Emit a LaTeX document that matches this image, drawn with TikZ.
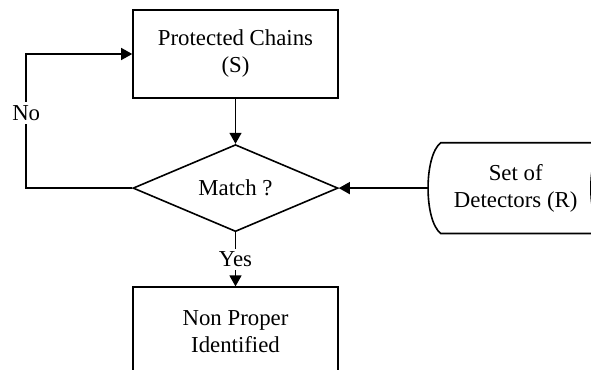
\documentclass[tikz,border=0pt]{standalone}
\usepackage{fontspec}
\setmainfont{Liberation Serif}
\usetikzlibrary{positioning, arrows.meta, shapes.geometric}
\tikzset{
	>={Triangle[length=5.5pt,width=6pt]},
	node distance=22.5pt,
	align=center,
	font=\fontsize{11.4pt}{13.5pt}\selectfont,
	every edge/.style={draw, ->, line width=0.7pt},
	block/.style={draw, line width=0.8pt, minimum width=102.5pt, minimum height=44pt, inner sep=0pt},
	decision/.style={diamond, aspect=2.4, draw, line width=0.8pt, minimum width=102.5pt, minimum height=43.5pt, inner sep=0pt},
	storage/.style={minimum width=87.5pt, minimum height=45pt, inner sep=0pt},
	answer/.style={fill=white, inner sep=1.5pt}
}

\begin{document}
\begin{tikzpicture}[x=0.5pt, y=-0.5pt]
	\useasboundingbox (0,0) rectangle (591,370);
	\node[block] (prot) at (235.5,54) {Protected Chains\\(S)};
	\node[decision, below=of prot] (match) {Match ?};
	\node[block, below=27pt of match] (out) {Non Proper\\Identified};
	\node[storage, right=44.5pt of match] (det) {Set of\\Detectors (R)};
	\coordinate[left=53pt of match.west] (noturn);
	% outline of the detector store
	\draw[line width=0.8pt] ([xshift=6.5pt]det.south west)
		.. controls +(-17,-13) and +(-17,13) .. ([xshift=6.5pt]det.north west)
		-- (det.north east)
		.. controls +(-17,13) and +(-17,-13) .. (det.south east) -- cycle;
	\draw
	(prot) edge (match)
	(det) edge (match)
	(match) edge node[answer]{Yes} (out)
	;
	\draw[->, line width=0.7pt] (match.west) -- (noturn) |- node[answer, pos=0.28]{No} (prot.west);
\end{tikzpicture}
\end{document}
